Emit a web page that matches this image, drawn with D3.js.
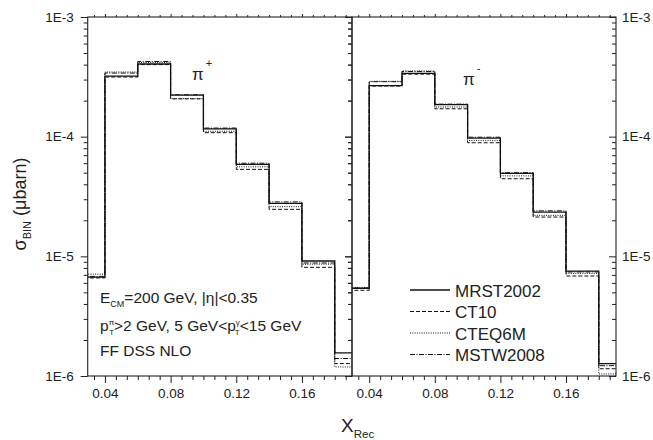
<!DOCTYPE html>
<html>
<head>
<meta charset="utf-8">
<script src="https://cdn.jsdelivr.net/npm/d3@7"></script>
<style>
  body { margin: 0; background: #fff; }
  svg text { font-family: "Liberation Sans", Arial, sans-serif; fill: #222; }
</style>
</head>
<body>
<div id="chart"></div>
<script>
// bin edges in X_Rec (first/last bins are cut by the axis)
var binEdges = [0.02, 0.04, 0.06, 0.08, 0.10, 0.12, 0.14, 0.16, 0.18, 0.20];

// sigma_BIN values (microbarn), pi+ panel
var piPlusMRST = [6.7e-6, 3.21e-4, 4.05e-4, 2.22e-4, 1.16e-4, 5.87e-5, 2.77e-5, 9.14e-6, 1.56e-6];
var piPlusCT10 = [6.6e-6, 3.15e-4, 4.0e-4, 2.07e-4, 1.08e-4, 5.33e-5, 2.47e-5, 8.09e-6, 1.27e-6];
var piPlusCTEQ = [7.1e-6, 3.47e-4, 4.17e-4, 2.08e-4, 1.11e-4, 5.6e-5, 2.6e-5, 8.6e-6, 1.19e-6];
var piPlusMSTW = [6.8e-6, 3.4e-4, 4.25e-4, 2.24e-4, 1.18e-4, 6.0e-5, 2.85e-5, 8.8e-6, 1.40e-6];

// pi- panel
var piMinusMRST = [5.39e-6, 2.67e-4, 3.38e-4, 1.85e-4, 9.74e-5, 4.93e-5, 2.34e-5, 7.52e-6, 1.27e-6];
var piMinusCT10 = [5.2e-6, 2.65e-4, 3.33e-4, 1.71e-4, 8.9e-5, 4.45e-5, 2.13e-5, 6.85e-6, 1.15e-6];
var piMinusCTEQ = [5.5e-6, 2.90e-4, 3.54e-4, 1.77e-4, 9.3e-5, 4.7e-5, 2.2e-5, 7.2e-6, 1.04e-6];
var piMinusMSTW = [5.45e-6, 2.88e-4, 3.5e-4, 1.87e-4, 9.9e-5, 5.0e-5, 2.4e-5, 7.4e-6, 1.22e-6];

var seriesNames = ["MRST2002", "CT10", "CTEQ6M", "MSTW2008"];
var yMajorTicks = [1e-6, 1e-5, 1e-4, 1e-3];
var yTickLabels = ["1E-6", "1E-5", "1E-4", "1E-3"];
var xMajorTicks = [0.04, 0.08, 0.12, 0.16];

// line styles per series
var dashes = [null, "4,2", "1,1.3", "5,1.5,1,1.5"];
var widths = [1.3, 1, 1, 1];

var svgWidth = 653, svgHeight = 440;
var svg = d3.select("#chart").append("svg")
  .attr("width", svgWidth)
  .attr("height", svgHeight);

var plotTop = 17, plotBottom = 376;
var y = d3.scaleLog().domain([1e-6, 1e-3]).range([plotBottom, plotTop]);
var xDomain = [0.0295, 0.1905];
var x1 = d3.scaleLinear().domain(xDomain).range([87.7, 352]);
var x2 = d3.scaleLinear().domain(xDomain).range([352, 616]);

// minor ticks
var yMinor = [];
yMajorTicks.slice(0, 3).forEach(function(d) {
  for (var k = 2; k <= 9; k++) yMinor.push(d * k);
});
var xMinor = [];
for (var k = -1; k <= 22; k++) {
  var v = 0.04 + k * 0.04 / 6;
  if (v >= xDomain[0] && v <= xDomain[1] && k % 6 !== 0) xMinor.push(v);
}

function drawPanel(x, series, id) {
  var g = svg.append("g");

  g.append("clipPath").attr("id", id)
    .append("rect")
    .attr("x", x.range()[0]).attr("y", plotTop)
    .attr("width", x.range()[1] - x.range()[0])
    .attr("height", plotBottom - plotTop);

  var line = d3.line()
    .x(function(d) { return x(d[0]); })
    .y(function(d) { return y(d[1]); })
    .curve(d3.curveStepAfter);

  // draw non-solid first, solid on top
  [3, 2, 1, 0].forEach(function(i) {
    var vals = series[i];
    var pts = binEdges.map(function(e, j) { return [e, vals[Math.min(j, vals.length - 1)]]; });
    g.append("path")
      .attr("clip-path", "url(#" + id + ")")
      .attr("d", line(pts))
      .attr("fill", "none")
      .attr("stroke", "#111")
      .attr("stroke-width", widths[i])
      .attr("stroke-dasharray", dashes[i]);
  });

  // bottom axis, ticks out
  g.append("g").attr("transform", "translate(0," + plotBottom + ")")
    .call(d3.axisBottom(x).tickValues(xMajorTicks).tickSize(7).tickPadding(5)
      .tickFormat(d3.format(".2f")))
    .call(function(a) { a.select(".domain").remove(); a.selectAll("text").style("font-size", "13.5px"); });
  g.append("g").attr("transform", "translate(0," + plotBottom + ")")
    .call(d3.axisBottom(x).tickValues(xMinor).tickSize(4).tickFormat(""))
    .call(function(a) { a.select(".domain").remove(); });

  // top axis, small ticks
  g.append("g").attr("transform", "translate(0," + plotTop + ")")
    .call(d3.axisTop(x).tickValues(xMajorTicks).tickSize(3).tickFormat(""))
    .call(function(a) { a.select(".domain").remove(); });
  g.append("g").attr("transform", "translate(0," + plotTop + ")")
    .call(d3.axisTop(x).tickValues(xMinor).tickSize(2).tickFormat(""))
    .call(function(a) { a.select(".domain").remove(); });

  // y ticks pointing left on both edges
  [x.range()[0], x.range()[1]].forEach(function(px) {
    g.append("g").attr("transform", "translate(" + px + ",0)")
      .call(d3.axisLeft(y).tickValues(yMajorTicks).tickSize(7).tickFormat(""))
      .call(function(a) { a.select(".domain").remove(); });
    g.append("g").attr("transform", "translate(" + px + ",0)")
      .call(d3.axisLeft(y).tickValues(yMinor).tickSize(4).tickFormat(""))
      .call(function(a) { a.select(".domain").remove(); });
  });

  // frame
  g.append("rect")
    .attr("x", x.range()[0]).attr("y", plotTop)
    .attr("width", x.range()[1] - x.range()[0])
    .attr("height", plotBottom - plotTop)
    .attr("fill", "none")
    .attr("stroke", "#222")
    .attr("stroke-width", 1.1);

  g.selectAll(".tick line").attr("stroke", "#222");
  return g;
}

drawPanel(x1, [piPlusMRST, piPlusCT10, piPlusCTEQ, piPlusMSTW], "clipL");
drawPanel(x2, [piMinusMRST, piMinusCT10, piMinusCTEQ, piMinusMSTW], "clipR");

// y tick labels, left and right
var yFmt = function(d) { return yTickLabels[yMajorTicks.indexOf(d)]; };
svg.append("g").attr("transform", "translate(87.7,0)")
  .call(d3.axisLeft(y).tickValues(yMajorTicks).tickSize(0).tickPadding(14).tickFormat(yFmt))
  .call(function(a) { a.select(".domain").remove(); a.selectAll("text").style("font-size", "13.5px"); });
svg.append("g").attr("transform", "translate(616,0)")
  .call(d3.axisRight(y).tickValues(yMajorTicks).tickSize(0).tickPadding(6).tickFormat(yFmt))
  .call(function(a) { a.select(".domain").remove(); a.selectAll("text").style("font-size", "13.5px"); });

// axis titles
var yt = svg.append("text")
  .attr("transform", "translate(26,204) rotate(-90)")
  .attr("text-anchor", "middle")
  .style("font-size", "18px");
yt.append("tspan").text("σ");
yt.append("tspan").attr("dy", 5).style("font-size", "11px").text("BIN");
yt.append("tspan").attr("dy", -5).text(" (μbarn)");

var xt = svg.append("text").attr("x", 341).attr("y", 432).style("font-size", "19px");
xt.append("tspan").text("X");
xt.append("tspan").attr("dy", 6).style("font-size", "11.5px").text("Rec");

// particle labels
var pp = svg.append("text").attr("x", 192).attr("y", 80).style("font-size", "17px");
pp.append("tspan").text("π");
pp.append("tspan").attr("dy", -13).attr("dx", 2).style("font-size", "11px").text("+");
var pm = svg.append("text").attr("x", 463).attr("y", 85).style("font-size", "17px");
pm.append("tspan").text("π");
pm.append("tspan").attr("dy", -13).attr("dx", 2).style("font-size", "11px").text("-");

// kinematics text
var t1 = svg.append("text").attr("x", 100).attr("y", 303).style("font-size", "15.5px");
t1.append("tspan").text("E");
t1.append("tspan").attr("dy", 4).style("font-size", "9px").text("CM");
t1.append("tspan").attr("dy", -4).text("=200 GeV, |η|<0.35");

var t2 = svg.append("text").attr("x", 100).attr("y", 331).style("font-size", "15.5px");
t2.append("tspan").text("p");
t2.append("tspan").attr("dy", -6).style("font-size", "8px").text("π");
t2.append("tspan").attr("dx", -5).attr("dy", 10).style("font-size", "8px").text("T");
t2.append("tspan").attr("dy", -4).text(">2 GeV, 5 GeV<p");
t2.append("tspan").attr("dy", -6).style("font-size", "8px").text("γ");
t2.append("tspan").attr("dx", -5).attr("dy", 10).style("font-size", "8px").text("T");
t2.append("tspan").attr("dy", -4).text("<15 GeV");

svg.append("text").attr("x", 100).attr("y", 356).style("font-size", "15.5px").text("FF DSS NLO");

// legend
var legend = svg.append("g").attr("transform", "translate(410,290)");
seriesNames.forEach(function(name, i) {
  var row = legend.append("g").attr("transform", "translate(0," + (i * 21.5) + ")");
  row.append("line")
    .attr("x1", 0).attr("x2", 40).attr("y1", 0).attr("y2", 0)
    .attr("stroke", "#111")
    .attr("stroke-width", widths[i])
    .attr("stroke-dasharray", dashes[i]);
  row.append("text").attr("x", 45).attr("y", 6.5)
    .style("font-size", "17px").text(name);
});
</script>
</body>
</html>
